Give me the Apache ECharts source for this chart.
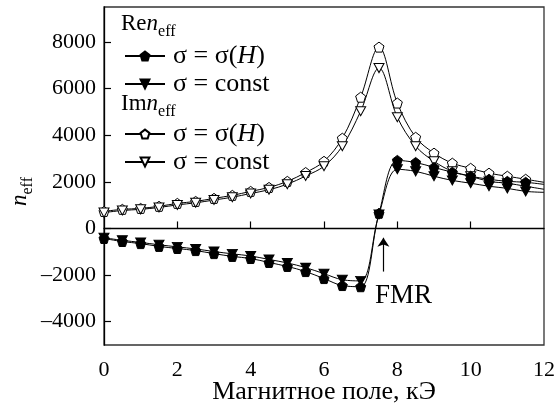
<!DOCTYPE html>
<html>
<head>
<meta charset="utf-8">
<script src="https://cdn.jsdelivr.net/npm/echarts@6/dist/echarts.min.js"></script>
<style>html,body{margin:0;padding:0;background:#fff}#c{width:555px;height:408px}</style>
</head>
<body>
<div id="c"></div>
<script>
// Magnetic field, kOe
const fieldKOe = [0,0.5,1,1.5,2,2.5,3,3.5,4,4.5,5,5.5,6,6.5,7,7.5,8,8.5,9,9.5,10,10.5,11,11.5,12];
// Re n_eff, sigma = sigma(H)
const reSigmaH = [-430,-560,-650,-770,-860,-950,-1080,-1200,-1290,-1460,-1630,-1850,-2150,-2450,-2500,650,2920,2830,2620,2410,2240,2110,2020,1980,1890];
// Re n_eff, sigma = const
const reConst = [-400,-510,-600,-700,-790,-880,-990,-1090,-1180,-1330,-1480,-1680,-1940,-2200,-2250,600,2540,2450,2240,2060,1940,1810,1720,1590,1550];
// Im n_eff, sigma = sigma(H)
const imSigmaH = [730,820,860,950,1075,1160,1290,1420,1590,1760,2020,2400,2880,3870,5630,7780,5380,3910,3230,2800,2580,2370,2240,2110,1980];
// Im n_eff, sigma = const
const imConst = [680,770,820,900,1010,1100,1220,1340,1500,1660,1900,2250,2670,3530,5030,6880,4770,3530,2880,2450,2240,2020,1940,1810,1680];
const xTickLabels = [0,2,4,6,8,10,12];
const yTickLabels = [-4000,-2000,0,2000,4000,6000,8000];
const fmrArrow = [[7.62,-1850],[7.62,-400]];
const fmrLabelAt = [7.62,-2880];

const FONT = 'Liberation Serif';
const PENT = 'path://M0,-1 L0.951,-0.309 L0.588,0.809 L-0.588,0.809 L-0.951,-0.309 Z';
const TRI = 'path://M0,0 L10,0 L5,9 Z';

function pts(ys){
  return fieldKOe.map((x,i)=> i===fieldKOe.length-1 ? {value:[x,ys[i]], symbol:'none'} : [x,ys[i]]);
}
function mk(name, ys, symbol, size, filled){
  return {
    name, type:'line', data: pts(ys), smooth:0.35, symbol, symbolSize:size,
    showAllSymbol:true, clip:false,
    lineStyle:{color:'#000', width:1},
    itemStyle:{color: filled ? '#000' : '#fff', borderColor:'#000', borderWidth:1},
    emphasis:{disabled:true}, animation:false
  };
}
const legendNames = {ReH:'{g|σ = σ(}{i|H}{g|)}', ReC:'{g|σ = const}', ImH:'{g|σ = σ(}{i|H}{g|)}', ImC:'{g|σ = const}'};
const rich = {g:{fontFamily:FONT,fontSize:26,lineHeight:26,color:'#000'}, i:{fontFamily:FONT,fontSize:26,lineHeight:26,fontStyle:'italic',color:'#000'}};
function legend(names, top){
  return {data:names, orient:'vertical', left:119, top, itemWidth:40, itemHeight:11, itemGap:2,
    formatter:n=>legendNames[n], textStyle:{rich, fontFamily:FONT, fontSize:26, lineHeight:26, color:'#000', padding:[0,0,0,3]},
    selectedMode:false};
}
const headRich = {
  a:{fontFamily:FONT,fontSize:23,color:'#000',lineHeight:24,verticalAlign:'top'},
  n:{fontFamily:FONT,fontSize:23,fontStyle:'italic',color:'#000',lineHeight:24,verticalAlign:'top'},
  s:{fontFamily:FONT,fontSize:16,color:'#000',lineHeight:16,padding:[12,0,0,0],verticalAlign:'top'}
};

const chart = echarts.init(document.getElementById('c'), null, {renderer:'canvas'});
const s1 = mk('ReH', reSigmaH, PENT, 10, true);
const s2 = mk('ReC', reConst, TRI, [10,9], true);
const s3 = mk('ImH', imSigmaH, PENT, 10, false);
const s4 = mk('ImC', imConst, TRI, [10,9], false);
s3.markLine = {silent:true, symbol:'none', label:{show:false}, animation:false,
  lineStyle:{color:'#000', width:1.2, type:'solid'}, data:[{yAxis:0}]};
s1.markLine = {silent:true, symbol:['none','arrow'], symbolSize:9, label:{show:false}, animation:false,
  lineStyle:{color:'#000', width:1.2, type:'solid'},
  data:[[{coord:fmrArrow[0]},{coord:fmrArrow[1]}]]};
s1.markPoint = {silent:true, animation:false, symbol:'circle', symbolSize:1, itemStyle:{color:'rgba(0,0,0,0)'},
  label:{show:true, position:'inside', formatter:'FMR', fontFamily:FONT, fontSize:27, color:'#000', offset:[20,0]},
  data:[{coord:fmrLabelAt}]};

chart.setOption({
  animation:false,
  backgroundColor:'#fff',
  grid:{left:104, right:11, top:7, bottom:63, show:true, borderColor:'#333', borderWidth:1.3, backgroundColor:'transparent',
    containLabel:false, outerBoundsMode:'none'},
  xAxis:{type:'value', min:0, max:12, interval:2,
    name:'Магнитное поле, кЭ', nameLocation:'middle', nameGap:34, nameMoveOverlap:false,
    nameTextStyle:{fontFamily:FONT, fontSize:26, color:'#000'},
    axisLine:{lineStyle:{color:'#000', width:1.3}},
    axisTick:{inside:true, length:7, lineStyle:{color:'#000', width:1.2}, customValues:[2,4,6,8,10]},
    axisLabel:{customValues:xTickLabels, fontFamily:FONT, fontSize:22, color:'#000', margin:14},
    splitLine:{show:false}},
  yAxis:{type:'value', min:-5000, max:9500,
    axisLine:{lineStyle:{color:'#000', width:1.3}},
    axisTick:{inside:true, length:7, lineStyle:{color:'#000', width:1.2}, customValues:yTickLabels},
    axisLabel:{customValues:yTickLabels, fontFamily:FONT, fontSize:22, color:'#000', margin:8,
      formatter:v=> v<0 ? '\u2013'+Math.abs(v) : String(v)},
    splitLine:{show:false}},
  legend:[legend(['ReH','ReC'], 38), legend(['ImH','ImC'], 116)],
  graphic:[
    {type:'text', left:121, top:12, style:{text:'{a|Re}{n|n}{s|eff}', rich:headRich}},
    {type:'text', left:121, top:92, style:{text:'{a|Im}{n|n}{s|eff}', rich:headRich}},
    {type:'text', x:8, y:206, rotation:Math.PI/2, style:{text:'{n|n}{s|eff}', rich:headRich}}
  ],
  series:[s3, s4, s1, s2]
});
</script>
</body>
</html>
